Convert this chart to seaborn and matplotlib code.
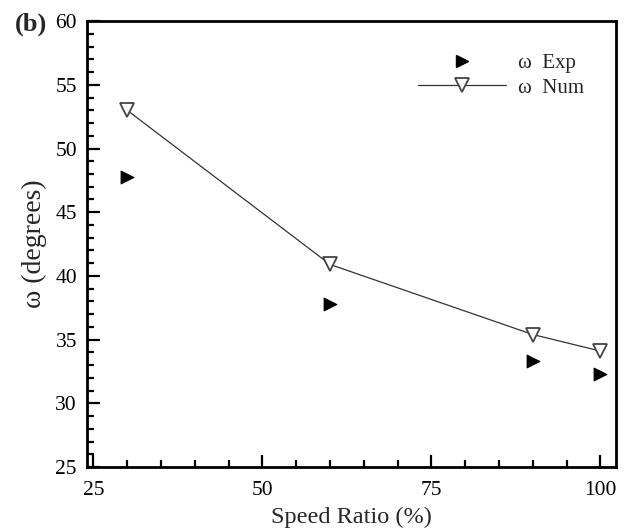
import matplotlib
matplotlib.use("Agg")
import matplotlib.pyplot as plt
from matplotlib.ticker import MultipleLocator
from matplotlib.lines import Line2D
import seaborn as sns
import pandas as pd

speed_ratio = [30, 60, 90, 100]
omega_exp = [47.8, 37.8, 33.3, 32.3]
omega_num = [53.0, 40.9, 35.4, 34.1]

sns.set_theme(style="white")
plt.rcParams['font.family'] = ['Liberation Serif', 'DejaVu Serif']
plt.rcParams['mathtext.fontset'] = 'stix'

df = pd.DataFrame({"speed": speed_ratio, "exp": omega_exp, "num": omega_num})

fig = plt.figure(figsize=(6.26, 5.29), dpi=100)
ax = fig.add_axes([0.1385, 0.1172, 0.8455, 0.8428])

sns.lineplot(data=df, x="speed", y="num", ax=ax, color="#333333", linewidth=0.9,
             marker="v", markersize=10, markerfacecolor="white",
             markeredgecolor="#444444", markeredgewidth=1.3, zorder=3)
sns.scatterplot(data=df, x="speed", y="exp", ax=ax, marker=">", s=85,
                color="black", edgecolor="black", zorder=4)

ax.set_xlim(24.0, 102.3)
ax.set_ylim(25, 60)
ax.xaxis.set_major_locator(MultipleLocator(25))
ax.xaxis.set_minor_locator(MultipleLocator(5))
ax.yaxis.set_major_locator(MultipleLocator(5))
ax.yaxis.set_minor_locator(MultipleLocator(1))
ax.tick_params(which="both", direction="in", top=False, right=False,
               left=True, bottom=True, width=1.6, colors="black",
               labelsize=15.5)
ax.tick_params(axis="x", pad=10)
ax.tick_params(axis="y", pad=7)
ax.tick_params(which="major", length=9)
ax.tick_params(which="minor", length=5)

for s in ax.spines.values():
    s.set_linewidth(2)
    s.set_color("black")

ax.set_xlabel("Speed Ratio (%)", fontsize=17.5, labelpad=5)
ax.set_ylabel("ω (degrees)", fontsize=20, labelpad=6)

handles = [
    Line2D([], [], linestyle="none", marker=">", markersize=9,
           color="black"),
    Line2D([], [], color="#333333", linewidth=0.9, marker="v", markersize=10,
           markerfacecolor="white", markeredgecolor="#444444",
           markeredgewidth=1.3),
]
ax.legend(handles, ["ω  Exp", "ω  Num"], loc="upper right",
          bbox_to_anchor=(0.975, 0.97), frameon=False, fontsize=15,
          handlelength=4.2, handletextpad=0.6, labelspacing=0.25)

fig.text(0.024, 0.955, "(b)", fontsize=19, fontweight="bold", ha="left", va="center")

fig.savefig("out.png", dpi=100)
